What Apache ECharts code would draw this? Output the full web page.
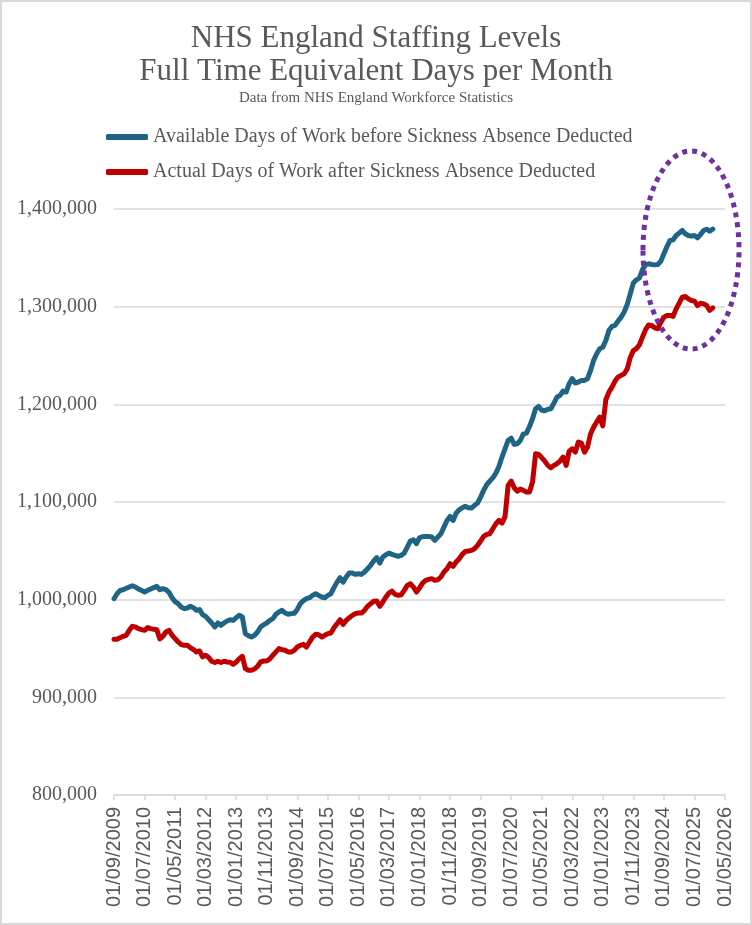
<!DOCTYPE html>
<html>
<head>
<meta charset="utf-8">
<title>NHS England Staffing Levels</title>
<script src="https://cdn.jsdelivr.net/npm/echarts@6/dist/echarts.min.js"></script>
<style>
	html, body { margin: 0; padding: 0; background: #fff; }
	#chart { width: 752px; height: 925px; }
</style>
</head>
<body>
<div id="chart"></div>
<script>
// monthly categories, first month of the series and last tick on the axis
const startYear = 2009;
const startMonth = 9;
const monthCount = 201; // 01/09/2009 .. 01/05/2026

const titleLines = ['NHS England Staffing Levels', 'Full Time Equivalent Days per Month'];
const subTitle = 'Data from NHS England Workforce Statistics';
const seriesNames = [
	'Available Days of Work before Sickness Absence Deducted',
	'Actual Days of Work after Sickness Absence Deducted'
];

// FTE days per month, one value per month from 09/2009
const availableDays = [
	1001000, 1006100, 1009500, 1010200, 1011600, 1013000, 1014300, 1013000, 1010900, 1009500,
	1007800, 1009500, 1010900, 1012300, 1013600, 1010200, 1011300, 1010200, 1007500, 1002000,
	998000, 995900, 992500, 990800, 991500, 993200, 991800, 989100, 989800, 984700,
	982900, 979500, 976100, 972000, 976100, 973700, 976100, 978200, 979500, 978800,
	981600, 984000, 982300, 965200, 963200, 961800, 963500, 966900, 972000, 974400,
	976100, 978800, 980600, 985000, 987400, 989100, 986400, 985000, 985700, 986000,
	990000, 996000, 999000, 1001000, 1002000, 1004400, 1006100, 1004400, 1002700, 1002000,
	1004400, 1006100, 1012300, 1018000, 1022500, 1018000, 1023200, 1027300, 1027300, 1025900,
	1026600, 1025900, 1028300, 1031700, 1035100, 1039600, 1043000, 1037500, 1043700, 1046000,
	1047700, 1046400, 1045300, 1044300, 1045300, 1047700, 1053800, 1060000, 1061400, 1057300,
	1063400, 1064500, 1064800, 1064800, 1064100, 1060700, 1064100, 1067500, 1074300, 1081100,
	1085200, 1081100, 1088600, 1092000, 1094100, 1095500, 1094100, 1093800, 1096500, 1098900,
	1105000, 1111900, 1117700, 1121400, 1124800, 1129600, 1136400, 1146000, 1154500, 1163000,
	1165400, 1159000, 1159600, 1163000, 1169800, 1170500, 1177300, 1185200, 1195500, 1197800,
	1194000, 1193500, 1195000, 1195500, 1201300, 1207400, 1209200, 1213600, 1212600, 1221100,
	1226300, 1221800, 1222800, 1224500, 1224500, 1226300, 1234700, 1245000, 1251800, 1256900,
	1258600, 1265400, 1275600, 1279800, 1280800, 1285300, 1289300, 1294500, 1302300, 1313200,
	1324300, 1327500, 1329400, 1338000, 1343000, 1343900, 1343200, 1342800, 1343200, 1346600,
	1354100, 1361600, 1367800, 1368400, 1372900, 1375300, 1378000, 1374600, 1372900, 1372200,
	1372900, 1370500, 1374000, 1378000, 1379300, 1377300, 1379500
];
const actualDays = [
	959400, 959400, 961100, 962500, 963500, 968600, 972700, 972000, 970300, 969300,
	968600, 971400, 970300, 969600, 969300, 959800, 962500, 966900, 968600, 963500,
	960100, 956700, 954000, 953300, 953300, 950900, 948900, 946500, 947500, 941400,
	943100, 940700, 936900, 935600, 936900, 935600, 936900, 936200, 935900, 933800,
	936200, 939600, 942000, 929400, 927700, 927700, 929000, 931800, 936200, 937200,
	937200, 939300, 943100, 946500, 949900, 948900, 948200, 946500, 946400, 948100,
	951500, 953200, 954300, 951500, 956600, 961700, 964500, 964100, 961700, 963500,
	965200, 965900, 971300, 975400, 979500, 974700, 978800, 981500, 983900, 985700,
	986300, 986300, 989100, 993200, 995900, 998300, 998600, 993200, 997600, 1002700,
	1006800, 1008800, 1005400, 1004400, 1005100, 1009500, 1014600, 1016300, 1012900, 1007800,
	1012000, 1017000, 1019800, 1020800, 1021500, 1019800, 1020400, 1023200, 1028300, 1031700,
	1036800, 1034100, 1038500, 1041900, 1046400, 1049400, 1049800, 1050500, 1052200, 1055600,
	1060000, 1064800, 1066800, 1067500, 1072600, 1077700, 1081100, 1078400, 1085000, 1116900,
	1121400, 1114600, 1111100, 1113200, 1111900, 1110200, 1110200, 1120400, 1149400, 1148700,
	1145500, 1141900, 1137500, 1135100, 1137500, 1139200, 1141900, 1146000, 1137500, 1152100,
	1154500, 1151100, 1161400, 1160300, 1151100, 1156300, 1169900, 1176700, 1181900, 1187000,
	1178000, 1204700, 1212500, 1217600, 1223800, 1227900, 1229600, 1231300, 1236400, 1248000,
	1255000, 1257000, 1261000, 1269000, 1276500, 1281300, 1280800, 1278400, 1277400, 1284200,
	1289300, 1291000, 1291000, 1290000, 1297800, 1303600, 1309700, 1310400, 1308000, 1306300,
	1305700, 1301200, 1303600, 1302900, 1301200, 1296100, 1298800
];

const yMin = 800000;
const yMax = 1400000;
const yStep = 100000;

const pad = (n) => (n < 10 ? '0' + n : '' + n);
const months = [];
for (let i = 0; i < monthCount; i++) {
	const mm = (startMonth - 1 + i) % 12 + 1;
	const yy = startYear + Math.floor((startMonth - 1 + i) / 12);
	months.push('01/' + pad(mm) + '/' + yy);
}

const serif = 'Liberation Serif';
const textGrey = '#595959';
const gridGrey = '#d9d9d9';

const chart = echarts.init(document.getElementById('chart'), null, { renderer: 'canvas' });
chart.setOption({
	backgroundColor: '#fff',
	animation: false,
	color: ['#1f6485', '#c00000'],
	title: [
		{
			text: titleLines[0],
			left: 'center',
			top: 18,
			textStyle: { fontFamily: serif, fontSize: 31, fontWeight: 'normal', color: textGrey }
		},
		{
			text: titleLines[1],
			left: 'center',
			top: 51,
			textStyle: { fontFamily: serif, fontSize: 31, fontWeight: 'normal', color: textGrey }
		},
		{
			text: subTitle,
			left: 'center',
			top: 86,
			textStyle: { fontFamily: serif, fontSize: 15, fontWeight: 'normal', color: textGrey }
		}
	],
	legend: {
		orient: 'vertical',
		left: 106,
		top: 127,
		padding: 0,
		itemGap: 15,
		itemWidth: 42,
		itemHeight: 6,
		icon: 'roundRect',
		textStyle: { fontFamily: serif, fontSize: 20, lineHeight: 20, color: textGrey },
		data: seriesNames
	},
	grid: { left: 114, right: 27, top: 209, bottom: 130, containLabel: false },
	xAxis: {
		type: 'category',
		boundaryGap: false,
		data: months,
		axisLine: { lineStyle: { color: gridGrey, width: 1.5 } },
		axisTick: { interval: 9, length: 5, lineStyle: { color: gridGrey, width: 1.5 } },
		axisLabel: {
			interval: 9,
			rotate: 90,
			margin: 12,
			fontFamily: 'Liberation Sans',
			fontSize: 20,
			color: textGrey
		},
		splitLine: { show: false }
	},
	yAxis: {
		type: 'value',
		min: yMin,
		max: yMax,
		interval: yStep,
		axisLine: { show: false },
		axisTick: { show: false },
		axisLabel: {
			margin: 17,
			fontFamily: serif,
			fontSize: 20,
			color: textGrey,
			formatter: (v) => v.toLocaleString('en-GB')
		},
		splitLine: { lineStyle: { color: gridGrey, width: 1.5 } }
	},
	series: [
		{
			name: seriesNames[0],
			type: 'line',
			data: availableDays,
			symbol: 'none',
			lineStyle: { width: 5, cap: 'round', join: 'round' }
		},
		{
			name: seriesNames[1],
			type: 'line',
			data: actualDays,
			symbol: 'none',
			lineStyle: { width: 5, cap: 'round', join: 'round' }
		}
	],
	graphic: [
		{
			// dotted highlight round the latest months
			type: 'ellipse',
			z: 100,
			shape: { cx: 691, cy: 250, rx: 48, ry: 99 },
			style: { fill: null, stroke: '#7030a0', lineWidth: 5, lineDash: [5, 5] }
		},
		{
			type: 'rect',
			z: 100,
			shape: { x: 1, y: 1, width: 750, height: 923 },
			style: { fill: null, stroke: gridGrey, lineWidth: 2 }
		}
	]
});
</script>
</body>
</html>
